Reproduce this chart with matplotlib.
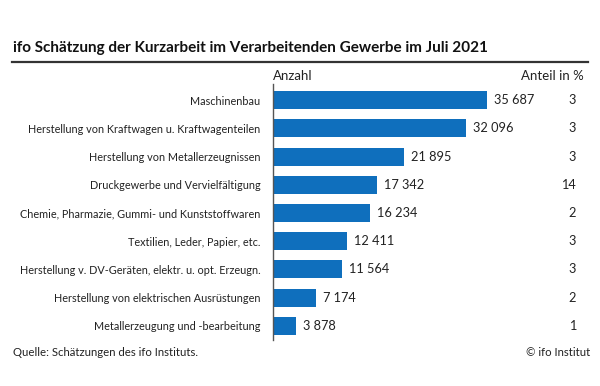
import matplotlib
matplotlib.use("Agg")
import matplotlib.pyplot as plt
import matplotlib.transforms as mtransforms
from matplotlib.lines import Line2D

categories = [
    "Maschinenbau",
    "Herstellung von Kraftwagen u. Kraftwagenteilen",
    "Herstellung von Metallerzeugnissen",
    "Druckgewerbe und Vervielfältigung",
    "Chemie, Pharmazie, Gummi- und Kunststoffwaren",
    "Textilien, Leder, Papier, etc.",
    "Herstellung v. DV-Geräten, elektr. u. opt. Erzeugn.",
    "Herstellung von elektrischen Ausrüstungen",
    "Metallerzeugung und -bearbeitung",
]
anzahl = [35687, 32096, 21895, 17342, 16234, 12411, 11564, 7174, 3878]
anteil = [3, 3, 3, 14, 2, 3, 3, 2, 1]

title = "ifo Schätzung der Kurzarbeit im Verarbeitenden Gewerbe im Juli 2021"
source = "Quelle: Schätzungen des ifo Instituts."
copyright_txt = "© ifo Institut"

plt.rcParams['font.family'] = ['Lato', 'DejaVu Sans']
W, H = 600, 386
fig = plt.figure(figsize=(W/100, H/100), dpi=100)
fig.patch.set_facecolor('white')

ax_l, ax_r, ax_t, ax_b = 273, 543, 84, 340
ax = fig.add_axes([ax_l/W, 1-ax_b/H, (ax_r-ax_l)/W, (ax_b-ax_t)/H])
ypos = list(range(len(categories)))
ax.barh(ypos, anzahl, height=0.64, color='#0f6fbd')
ax.set_xlim(0, 45000)
ax.set_ylim(8.5, -0.57)
for s in ['top', 'right', 'bottom']:
    ax.spines[s].set_visible(False)
ax.spines['left'].set_color('#555555')
ax.spines['left'].set_linewidth(1.0)
ax.set_xticks([])
ax.set_yticks(ypos)
ax.set_yticklabels(categories, fontsize=7.8, color='#222222')
ax.tick_params(axis='y', length=0, pad=9)

def fmt(v):
    return f"{v:,}".replace(",", " ")

for y, v in zip(ypos, anzahl):
    ax.annotate(fmt(v), xy=(v, y), xytext=(5, 0), textcoords='offset points',
                va='center', ha='left', fontsize=9.2, color='#222222')

trans = mtransforms.blended_transform_factory(fig.transFigure, ax.transData)
for y, p in zip(ypos, anteil):
    ax.text(576/W, y, str(p), transform=trans, ha='right', va='center',
            fontsize=9.2, color='#222222')

fig.text(273/W, 1-76/H, "Anzahl", ha='left', va='center', fontsize=9.5, color='#222222')
fig.text(584/W, 1-76/H, "Anteil in %", ha='right', va='center', fontsize=9.5, color='#222222')

fig.text(13/W, 1-48/H, title, ha='left', va='center', fontsize=11.0,
         fontweight='bold', color='#111111')
fig.add_artist(Line2D([12/W, 588/W], [1-62/H, 1-62/H], transform=fig.transFigure,
                      color='#333333', linewidth=1.6))

fig.text(13/W, 1-352/H, source, ha='left', va='center', fontsize=8.2, color='#222222')
fig.text(590/W, 1-352/H, copyright_txt, ha='right', va='center', fontsize=8.2, color='#222222')

fig.savefig("out.png", dpi=100, facecolor='white')
